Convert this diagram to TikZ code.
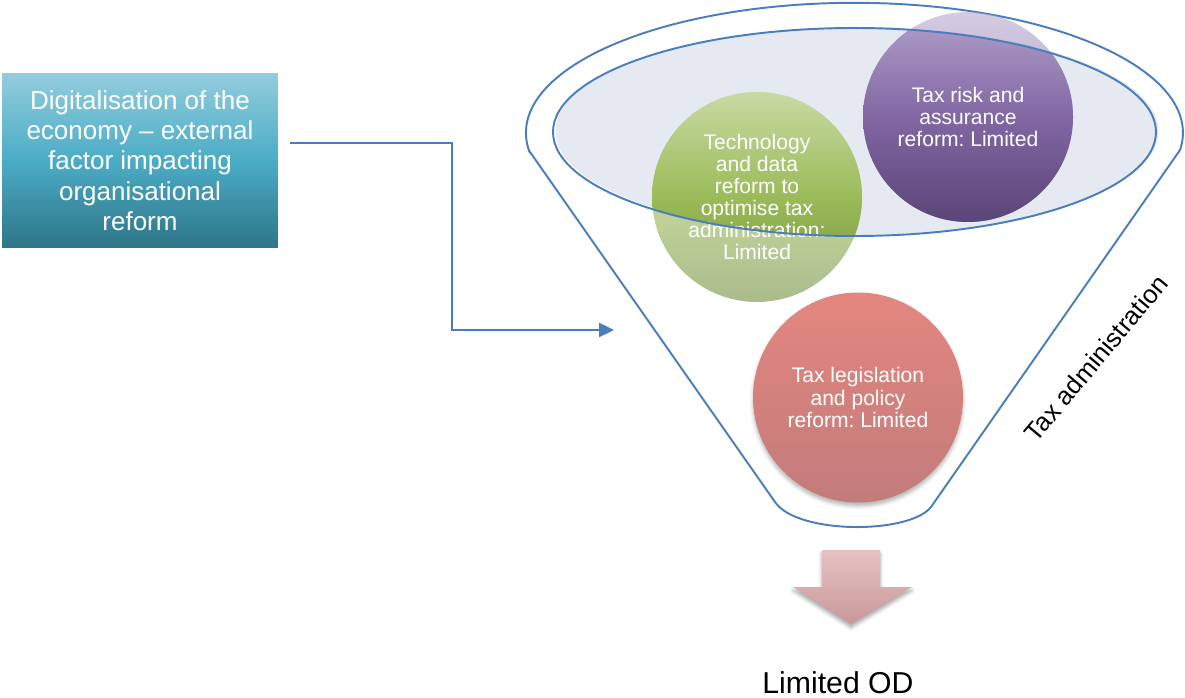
\documentclass[tikz,border=0pt]{standalone}
\usepackage{fontspec}
\setmainfont{Liberation Sans}
\usetikzlibrary{arrows.meta,positioning,calc,shadows.blur}
\definecolor{linkblue}{HTML}{4A7EBB}
\definecolor{rimfill}{HTML}{E4E9F2}
\definecolor{tealtop}{HTML}{93CDDD}
\definecolor{tealmid}{HTML}{4BACC6}
\definecolor{tealbot}{HTML}{2E7587}
\definecolor{greentop}{HTML}{C8DAA3}
\definecolor{greenmid}{HTML}{9BBB59}
\definecolor{greenbot}{HTML}{728F3E}
\definecolor{purpletop}{HTML}{B2A0CA}
\definecolor{purplemid}{HTML}{8267A3}
\definecolor{purplebot}{HTML}{5A4577}
\definecolor{redtop}{HTML}{E4867F}
\definecolor{redbot}{HTML}{C27C7B}
\definecolor{pinktop}{HTML}{E6C2C3}
\definecolor{pinkbot}{HTML}{C99899}

\begin{document}
\frenchspacing
\begin{tikzpicture}[x=0.02cm, y=0.02cm,
  factor/.style={minimum width=5.52cm, minimum height=3.5cm, inner sep=0pt, align=center,
                 text=white, font=\fontsize{14.8}{17.2}\selectfont,
                 top color=tealtop, bottom color=tealbot, middle color=tealmid},
  bubble/.style={circle, minimum size=4.2cm, inner sep=0pt, align=center,
                 text=white, font=\fontsize{12}{12.6}\selectfont},
  link/.style={draw=linkblue, line width=1.1pt, -{Triangle[length=8.5pt, width=8pt]}},
  rim/.style={draw=linkblue, line width=1.1pt},
  greenball/.style={top color=greentop, bottom color=greenbot, middle color=greenmid},
  purpleball/.style={top color=purpletop, bottom color=purplebot, middle color=purplemid},
  redball/.style={top color=redtop, bottom color=redbot},
]
  \useasboundingbox (0,0) rectangle (1185,697);

  \node[factor] (digital) at (140,536.5) {Digitalisation of the\\economy – external\\factor impacting\\organisational\\reform};
  \coordinate (inlet) at (614,367);
  \draw[link] ([shift={(12,17.5)}]digital.east) -- ++(162,0) |- (inlet);

  \coordinate (risk-c) at (968,580);
  \coordinate (techno-c) at (757,500);
  \coordinate (legis-c) at (858,299.5);

  % funnel body and rim
  \draw[rim] (530,545) -- (775,195) .. controls (797,162.5) and (909,162.5) .. (931,190)
    -- (1180,547) arc[start angle=-7.6, end angle=188.5, x radius=328.5, y radius=130] -- cycle;
  \fill[rimfill] (857,566) ellipse [x radius=301.5, y radius=104];

  \shade[redball, blur shadow={shadow xshift=0pt, shadow yshift=-2pt, shadow opacity=30}]
    (legis-c) circle (105);
  \shade[greenball, opacity=0.6] (techno-c) circle (105);
  \shade[purpleball, opacity=0.55] (risk-c) circle (105);
  \begin{scope}
    \clip (854.5,565) ellipse [x radius=301.5, y radius=104];
    \shade[greenball] (techno-c) circle (105);
    \shade[purpleball] (risk-c) circle (105);
  \end{scope}

  \node[bubble] (risk) at (risk-c) {Tax risk and\\assurance\\reform: Limited};
  \node[bubble] (techno) at (techno-c) {Technology\\and data\\reform to\\optimise tax\\administration:\\Limited};
  \node[bubble] (legis) at (legis-c) {Tax legislation\\and policy\\reform: Limited};
  \draw[rim] (854.5,565) ellipse [x radius=301.5, y radius=104];

  \shade[top color=pinktop, bottom color=pinkbot,
         blur shadow={shadow xshift=0pt, shadow yshift=-2pt, shadow opacity=35}]
    (822,147) -- (880,147) -- (880,110) -- (912,110) -- (851,73) -- (793,110) -- (822,110) -- cycle;
  \node[font=\fontsize{17.2}{20}\selectfont, anchor=base] (outcome) at (838,4) {Limited OD};
  \node[font=\fontsize{14.6}{17}\selectfont, rotate=50] (admin) at (1096,339) {Tax administration};
\end{tikzpicture}
\end{document}
